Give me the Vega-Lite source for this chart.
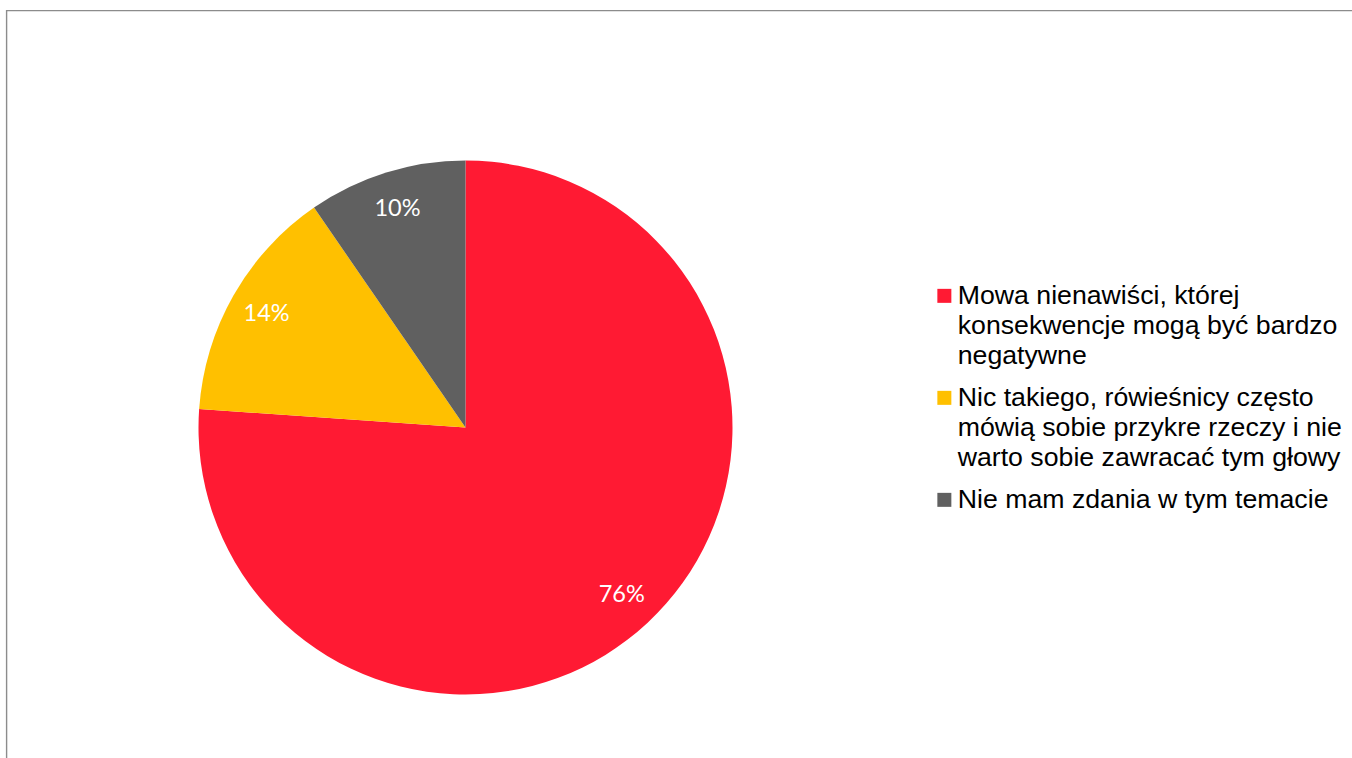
{
  "$schema": "https://vega.github.io/schema/vega-lite/v6.json",
  "width": 1360,
  "height": 760,
  "autosize": {"type": "none"},
  "padding": {"left": 6.5, "top": 10.5, "right": 0, "bottom": 0},
  "background": "white",
  "config": {
    "view": {"stroke": "#8c8c8c", "strokeWidth": 1.4}
  },
  "data": {
    "values": [
      {"category": "Mowa nienawiści, której konsekwencje mogą być bardzo negatywne", "share": 0.761},
      {"category": "Nic takiego, rówieśnicy często mówią sobie przykre rzeczy i nie warto sobie zawracać tym głowy", "share": 0.143},
      {"category": "Nie mam zdania w tym temacie", "share": 0.096}
    ]
  },
  "encoding": {
    "theta": {"field": "share", "type": "quantitative", "stack": true},
    "order": {"field": "share", "type": "quantitative", "sort": "descending"},
    "color": {
      "field": "category",
      "type": "nominal",
      "sort": null,
      "scale": {
        "domain": [
          "Mowa nienawiści, której konsekwencje mogą być bardzo negatywne",
          "Nic takiego, rówieśnicy często mówią sobie przykre rzeczy i nie warto sobie zawracać tym głowy",
          "Nie mam zdania w tym temacie"
        ],
        "range": ["#ff1a33", "#ffc000", "#606060"]
      },
      "legend": {
        "orient": "none",
        "legendX": 924.5,
        "legendY": 272,
        "title": null,
        "padding": 0,
        "symbolType": "square",
        "symbolSize": 196,
        "symbolStrokeWidth": 0,
        "symbolOpacity": 1,
        "labelFont": "Liberation Sans",
        "labelFontSize": 26.7,
        "labelColor": "#000000",
        "labelLimit": 0,
        "labelOffset": 0,
        "rowPadding": 14,
        "encode": {"labels": {"update": {"lineHeight": {"value": 30.3}}}},
        "labelExpr": "datum.label == 'Mowa nienawiści, której konsekwencje mogą być bardzo negatywne' ? ['Mowa nienawiści, której', 'konsekwencje mogą być bardzo', 'negatywne'] : datum.label == 'Nie mam zdania w tym temacie' ? datum.label : ['Nic takiego, rówieśnicy często', 'mówią sobie przykre rzeczy i nie', 'warto sobie zawracać tym głowy']"
      }
    },
    "x": {"datum": 0, "type": "quantitative", "scale": {"domain": [-459, 901], "nice": false, "zero": false}, "axis": null},
    "y": {"datum": 0, "type": "quantitative", "scale": {"domain": [-343, 417], "nice": false, "zero": false}, "axis": null}
  },
  "layer": [
    {"mark": {"type": "arc", "outerRadius": 267}},
    {
      "mark": {"type": "text", "radius": 229, "font": "Lato", "fontSize": 23.5},
      "encoding": {
        "text": {"field": "share", "type": "quantitative", "format": ".0%"},
        "fill": {"value": "white"}
      }
    }
  ]
}
